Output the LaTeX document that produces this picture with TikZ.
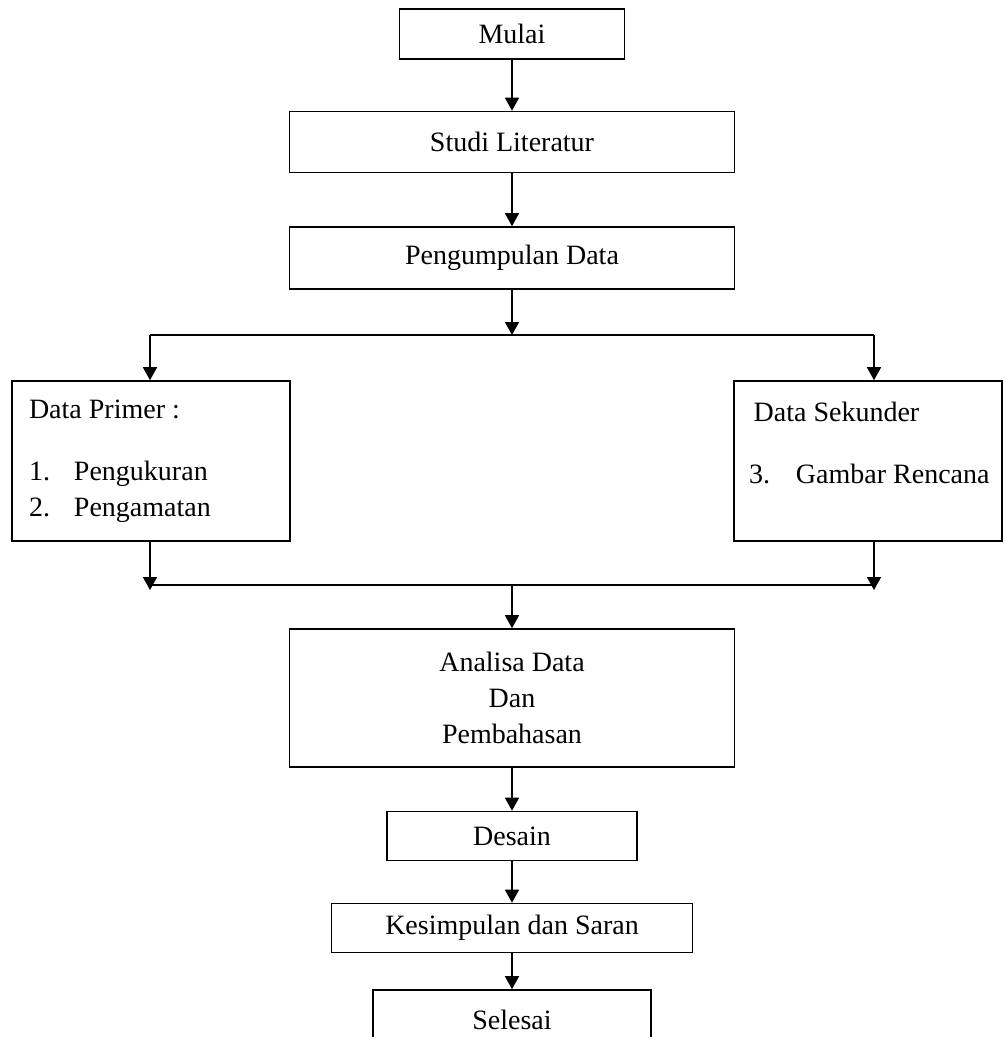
\documentclass[tikz,border=0pt]{standalone}
\usepackage{fontspec}
\setmainfont{Liberation Serif}
\usepackage{tikz}
\usetikzlibrary{arrows.meta}

\begin{document}
\begin{tikzpicture}[x=1pt,y=-1pt]
        \clip (0,0) rectangle (1004,1037);
        \fill[white] (0,0) rectangle (1004,1037);
        \begin{scope}[every node/.style={draw=black,line width=1.6pt,rectangle,inner sep=0pt,
                font=\fontsize{28}{36}\selectfont,align=center}]
            \node[minimum width=225,minimum height=50] (mulai) at (512,34) {Mulai};
            \node[minimum width=445,minimum height=61] (studi) at (512,142) {Studi Literatur};
            \node[minimum width=445,minimum height=62] (kumpul) at (512,258) {Pengumpulan Data};

            \node[minimum width=278,minimum height=160,inner xsep=17,text width=244,align=flush left] (primer) at (151,461)
                {Data Primer :\\[26pt]\makebox[45pt][l]{1.}Pengukuran\\\makebox[45pt][l]{2.}Pengamatan};
            \node[minimum width=268,minimum height=160,inner xsep=15,text width=238,align=flush left] (sekunder) at (868,461)
                {\mbox{\,Data Sekunder}\\[26pt]\mbox{\makebox[47pt][l]{3.}Gambar Rencana}\\~};

            \node[minimum width=445,minimum height=138] (analisa) at (512,698) {Analisa Data\\Dan\\Pembahasan};
            \node[minimum width=250,minimum height=49] (desain) at (512,836) {Desain};
            \node[minimum width=361,minimum height=49] (simpul) at (512,928) {Kesimpulan dan Saran};
            \node[minimum width=278,minimum height=60] (selesai) at (512,1020) {Selesai};
        \end{scope}

        \coordinate (bagi) at (512,335);
        \coordinate (bagiL) at (150,335);
        \coordinate (bagiR) at (874,335);
        \coordinate (gabung) at (512,585);
        \coordinate (gabungL) at (150,590);
        \coordinate (gabungR) at (874,590);

        \begin{scope}[every edge/.style={draw,line width=1.6pt},>={Triangle[width=14pt,length=13pt]}]
            \path [->] (mulai) edge node {} (studi);
            \path [->] (studi) edge node {} (kumpul);
            \path [->] (kumpul) edge node {} (bagi);

            \draw[line width=1.6pt] (bagiL) -- (bagiR);
            \path [->] (bagiL) edge node {} (primer.north -| bagiL);
            \path [->] (bagiR) edge node {} (sekunder.north -| bagiR);

            \path [->] (primer.south -| gabungL) edge node {} (gabungL);
            \path [->] (sekunder.south -| gabungR) edge node {} (gabungR);
            \draw[line width=1.6pt] (gabung -| gabungL) -- (gabung -| gabungR);

            \path [->] (gabung) edge node {} (analisa);
            \path [->] (analisa) edge node {} (desain);
            \path [->] (desain) edge node {} (simpul);
            \path [->] (simpul) edge node {} (selesai);
        \end{scope}
    \end{tikzpicture}
\end{document}
